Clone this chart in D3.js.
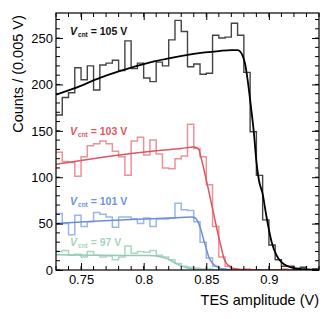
<!DOCTYPE html>
<html>
<head>
<meta charset="utf-8">
<script src="https://cdn.jsdelivr.net/npm/d3@7"></script>
<style>
  body { margin: 0; background: #fff; }
  svg { display: block; font-family: "Liberation Sans", Arial, Helvetica, sans-serif; }
</style>
</head>
<body>
<svg id="chart" width="332" height="319"></svg>
<script>
// histogram: bins of 0.005 V starting at 0.73 V
const binStart = 0.73
const binWidth = 0.005

const counts105 = [167, 186, 191, 218, 205, 220, 194, 221, 223, 226, 215, 247, 217, 223, 207, 203, 224, 220, 248, 269,
  257, 219, 222, 211, 212, 253, 250, 251, 266, 253, 213, 149, 102, 54, 27, 11, 4, 4, 1, 3, 0, 1]
const counts103 = [127, 117, 116, 101, 122, 134, 136, 139, 136, 128, 122, 102, 139, 143, 124, 140, 125, 110, 109, 120,
  123, 157, 131, 122, 92, 47, 14, 4, 1, 0, 1, 0, 0, 0, 0, 0, 1, 0, 0, 0, 0, 0]
const counts101 = [61, 50, 38, 59, 47, 52, 62, 60, 57, 46, 57, 57, 55, 50, 56, 47, 55, 55, 56, 72,
  65, 64, 52, 30, 13, 4, 1, 0, 0, 0, 0, 0, 0, 0, 0, 0, 0, 0, 0, 0, 0, 0]
const counts97 = [20, 21, 16, 17, 14, 20, 16, 14, 15, 11, 14, 26, 18, 20, 19, 21, 16, 14, 11, 7,
  4, 3, 2, 1, 1, 0, 0, 0, 0, 0, 0, 0, 0, 0, 0, 0, 0, 0, 0, 0, 0, 0]

// fitted curves: [amplitude, counts]
const fit105 = [[0.730, 189], [0.745, 196], [0.765, 207], [0.780, 214], [0.800, 222], [0.820, 228], [0.840, 233],
  [0.860, 236], [0.870, 237], [0.875, 237], [0.877, 235.5], [0.879, 231], [0.881, 222], [0.883, 205], [0.886, 172],
  [0.888, 148], [0.890, 117], [0.892, 97], [0.895, 82], [0.898, 58], [0.902, 31], [0.906, 16], [0.910, 8.5],
  [0.915, 4], [0.920, 2], [0.930, 0.7], [0.940, 0.3]]
const fit103 = [[0.730, 114], [0.750, 118], [0.770, 122], [0.790, 125.5], [0.810, 128.5], [0.830, 131], [0.840, 132.5],
  [0.842, 132], [0.844, 130], [0.846, 120], [0.848, 109], [0.850, 97], [0.852, 85], [0.854, 72], [0.856, 60],
  [0.858, 47], [0.860, 35], [0.862, 24], [0.864, 13], [0.866, 7.5], [0.868, 4.5], [0.871, 2], [0.876, 0.8],
  [0.885, 0.2], [0.940, 0]]
const fit101 = [[0.730, 50], [0.760, 52.5], [0.790, 54.5], [0.820, 56], [0.838, 57], [0.840, 56.8], [0.842, 55],
  [0.844, 50], [0.846, 42], [0.848, 32], [0.850, 23], [0.852, 14], [0.854, 9], [0.856, 6], [0.858, 4],
  [0.862, 1.5], [0.868, 0.5], [0.880, 0.1], [0.940, 0]]
const fit97 = [[0.730, 16.5], [0.760, 16], [0.790, 15.5], [0.805, 15.5], [0.810, 15], [0.814, 14], [0.818, 12.5],
  [0.822, 10], [0.826, 7], [0.830, 4.5], [0.834, 2.5], [0.840, 1], [0.850, 0.3], [0.860, 0.1], [0.940, 0]]

const voltages = ['105', '103', '101', '97']
const xTicks = [0.75, 0.8, 0.85, 0.9]
const xTickLabels = ['0.75', '0.8', '0.85', '0.9']
const yTicks = [0, 50, 100, 150, 200, 250]

const series = [
  { v: voltages[3], counts: counts97, fit: fit97, hist: '#aad6c4', line: '#94c9b2', text: '#a7d3c0', ty: 246 },
  { v: voltages[2], counts: counts101, fit: fit101, hist: '#9cb5ea', line: '#6d8ed6', text: '#7193d9', ty: 205 },
  { v: voltages[1], counts: counts103, fit: fit103, hist: '#ee9299', line: '#dc5660', text: '#de5a60', ty: 135 },
  { v: voltages[0], counts: counts105, fit: fit105, hist: '#444444', line: '#000000', text: '#111111', ty: 35 }
]

const chart = { left: 56, right: 319, top: 13, bottom: 270 }
const svg = d3.select('#chart')

const x = d3.scaleLinear().domain([0.73, 0.94]).range([chart.left, chart.right])
const y = d3.scaleLinear().domain([0, 277]).range([chart.bottom, chart.top])

svg.append('clipPath').attr('id', 'plot-clip')
  .append('rect')
  .attr('x', chart.left).attr('y', chart.top)
  .attr('width', chart.right - chart.left).attr('height', chart.bottom - chart.top)

const plot = svg.append('g').attr('clip-path', 'url(#plot-clip)')

const stepLine = d3.line()
  .x(d => x(d[0]))
  .y(d => y(d[1]))
  .curve(d3.curveStepAfter)

const fitLine = d3.line()
  .x(d => x(d[0]))
  .y(d => y(d[1]))
  .curve(d3.curveMonotoneX)

series.forEach(s => {
  let pts = s.counts.map((c, i) => [binStart + i * binWidth, c])
  pts.push([binStart + s.counts.length * binWidth, s.counts[s.counts.length - 1]])

  plot.append('path')
    .datum(pts)
    .attr('fill', 'none')
    .attr('stroke', s.hist)
    .attr('stroke-width', s.v === '105' ? 1.4 : 1.5)
    .attr('d', stepLine)

  plot.append('path')
    .datum(s.fit)
    .attr('fill', 'none')
    .attr('stroke', s.line)
    .attr('stroke-width', s.v === '105' ? 1.8 : 1.5)
    .attr('d', fitLine)
})

// labels
series.forEach(s => {
  let t = svg.append('text')
    .attr('x', 70)
    .attr('y', s.ty)
    .attr('fill', s.text)
    .attr('font-size', 10.5)
    .attr('font-weight', 'bold')
  t.append('tspan').attr('font-style', 'italic').text('V')
  t.append('tspan').attr('font-size', 6.5).attr('dx', 1).attr('dy', 2).text('cnt')
  t.append('tspan').attr('dy', -2).text(' = ' + s.v + ' V')
})

// axes: ticks inside on all four sides
const minorX = x.ticks(21)
const minorY = y.ticks(28)

function minorTicks(g, vals, scale, orient) {
  g.selectAll('line.minor').data(vals).enter().append('line')
    .attr('stroke', '#000').attr('stroke-width', 1)
    .each(function (d) {
      let p = scale(d), el = d3.select(this)
      if (orient === 'bottom') el.attr('x1', p).attr('x2', p).attr('y1', chart.bottom).attr('y2', chart.bottom - 4)
      if (orient === 'top') el.attr('x1', p).attr('x2', p).attr('y1', chart.top).attr('y2', chart.top + 4)
      if (orient === 'left') el.attr('y1', p).attr('y2', p).attr('x1', chart.left).attr('x2', chart.left + 4)
      if (orient === 'right') el.attr('y1', p).attr('y2', p).attr('x1', chart.right).attr('x2', chart.right - 4)
    })
}

const axes = svg.append('g')
minorTicks(axes, minorX, x, 'bottom')
minorTicks(axes, minorX, x, 'top')
minorTicks(axes, minorY, y, 'left')
minorTicks(axes, minorY, y, 'right')

const xAxis = axes.append('g')
  .attr('transform', `translate(0,${chart.bottom})`)
  .call(d3.axisBottom(x).tickValues(xTicks).tickFormat((d, i) => xTickLabels[i])
    .tickSizeInner(-7).tickSizeOuter(0).tickPadding(5))
xAxis.select('.domain').remove()

axes.append('g')
  .attr('transform', `translate(0,${chart.top})`)
  .call(d3.axisTop(x).tickValues(xTicks).tickFormat('').tickSizeInner(-7).tickSizeOuter(0))
  .select('.domain').remove()

const yAxis = axes.append('g')
  .attr('transform', `translate(${chart.left},0)`)
  .call(d3.axisLeft(y).tickValues(yTicks).tickSizeInner(-7).tickSizeOuter(0).tickPadding(3))
yAxis.select('.domain').remove()

axes.append('g')
  .attr('transform', `translate(${chart.right},0)`)
  .call(d3.axisRight(y).tickValues(yTicks).tickFormat('').tickSizeInner(-7).tickSizeOuter(0))
  .select('.domain').remove()

axes.selectAll('.tick text')
  .attr('font-size', 13)
  .attr('fill', '#000')
  .attr('font-family', '"Liberation Sans", Arial, sans-serif')
axes.selectAll('.tick line').attr('stroke', '#000')

svg.append('rect')
  .attr('x', chart.left).attr('y', chart.top)
  .attr('width', chart.right - chart.left).attr('height', chart.bottom - chart.top)
  .attr('fill', 'none').attr('stroke', '#000').attr('stroke-width', 1.2)

// axis titles
svg.append('text')
  .attr('x', chart.right)
  .attr('y', 305)
  .attr('text-anchor', 'end')
  .attr('font-size', 14.5)
  .text('TES amplitude (V)')

svg.append('text')
  .attr('transform', 'translate(23,74) rotate(-90)')
  .attr('text-anchor', 'middle')
  .attr('font-size', 14.5)
  .text('Counts / (0.005 V)')
</script>
</body>
</html>
